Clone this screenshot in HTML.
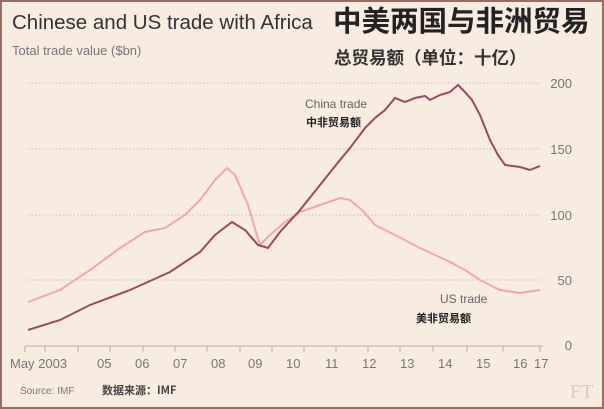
<!DOCTYPE html>
<html><head><meta charset="utf-8"><style>
body{margin:0;width:604px;height:409px;overflow:hidden;background:#f8ebe0;}
.f{position:absolute;inset:0;border:2px solid #9c6a62;box-sizing:border-box;}
</style></head><body>
<div class="f"></div>
<svg width="604" height="409" style="position:absolute;left:0;top:0" font-family="Liberation Sans, 'Noto Sans CJK SC', sans-serif">
<text x="12" y="29" font-size="20.5" fill="#333">Chinese and US trade with Africa</text>
<text x="333" y="31" font-size="28.5" font-weight="bold" fill="#222" font-family="'Noto Sans CJK SC', sans-serif">中美两国与非洲贸易</text>
<text x="12" y="55" font-size="13" fill="#777">Total trade value ($bn)</text>
<text x="334" y="64" font-size="17.5" font-weight="bold" fill="#333" font-family="'Noto Sans CJK SC', sans-serif">总贸易额（单位：十亿）</text>
<g stroke="#cbbfb6" stroke-dasharray="1.5 2" stroke-width="1">
<line x1="28" y1="83" x2="540" y2="83"/><line x1="28" y1="149" x2="540" y2="149"/>
<line x1="28" y1="215" x2="540" y2="215"/><line x1="28" y1="280" x2="540" y2="280"/></g>
<line x1="25" y1="346" x2="543" y2="346" stroke="#b8aca4"/>
<g stroke="#b8aca4">
<line x1="25" y1="346" x2="25" y2="352"/><line x1="45" y1="346" x2="45" y2="352"/><line x1="78" y1="346" x2="78" y2="352"/><line x1="110" y1="346" x2="110" y2="352"/><line x1="143" y1="346" x2="143" y2="352"/><line x1="175" y1="346" x2="175" y2="352"/><line x1="207" y1="346" x2="207" y2="352"/><line x1="240" y1="346" x2="240" y2="352"/><line x1="272" y1="346" x2="272" y2="352"/><line x1="304" y1="346" x2="304" y2="352"/><line x1="336" y1="346" x2="336" y2="352"/><line x1="368" y1="346" x2="368" y2="352"/><line x1="400" y1="346" x2="400" y2="352"/><line x1="433" y1="346" x2="433" y2="352"/><line x1="467" y1="346" x2="467" y2="352"/><line x1="503" y1="346" x2="503" y2="352"/><line x1="540" y1="346" x2="540" y2="352"/></g>
<g font-size="13" fill="#777" text-anchor="end">
<text x="572" y="88">200</text><text x="572" y="154">150</text><text x="572" y="220">100</text><text x="572" y="285">50</text><text x="572" y="350">0</text></g>
<g font-size="13" fill="#777">
<text x="10" y="368">May 2003</text><text x="97" y="368">05</text><text x="135" y="368">06</text><text x="173" y="368">07</text><text x="211" y="368">08</text><text x="248" y="368">09</text><text x="286" y="368">10</text><text x="325" y="368">11</text><text x="362" y="368">12</text><text x="400" y="368">13</text><text x="438" y="368">14</text><text x="476" y="368">15</text><text x="513" y="368">16</text><text x="534" y="368">17</text></g>
<text x="20" y="394" font-size="10" fill="#777">Source: IMF</text>
<text x="102" y="394" font-size="11" font-weight="bold" fill="#444" font-family="'Noto Sans CJK SC', sans-serif">数据来源：IMF</text>
<text x="570" y="398" font-size="20" fill="#d8ccc2" font-family="Liberation Serif, serif">FT</text>
<polyline fill="none" stroke="#f2a6ac" stroke-width="2" points="28,302 60,290 90,270 120,248 145,232 165,228 185,215 200,200 215,180 227,168 235,175 248,205 260,245 270,235 285,222 300,212 320,205 340,198 350,200 362,210 375,225 395,235 420,248 450,262 465,270 480,280 500,290 520,293 540,290"/>
<polyline fill="none" stroke="#9a4863" stroke-width="2" points="28,330 60,320 90,305 130,290 170,272 200,252 215,235 232,222 245,230 258,245 268,248 280,232 300,210 320,185 340,160 350,148 365,128 375,118 385,110 395,98 405,102 415,98 425,96 430,100 440,95 450,92 458,85 463,90 472,100 480,115 490,140 498,155 505,165 520,167 530,170 540,166"/>
<text x="305" y="108" font-size="12" fill="#666">China trade</text>
<text x="306" y="126" font-size="11" font-weight="bold" fill="#222" font-family="'Noto Sans CJK SC', sans-serif">中非贸易额</text>
<text x="440" y="303" font-size="12" fill="#666">US trade</text>
<text x="416" y="322" font-size="11" font-weight="bold" fill="#222" font-family="'Noto Sans CJK SC', sans-serif">美非贸易额</text>
</svg>
</body></html>
